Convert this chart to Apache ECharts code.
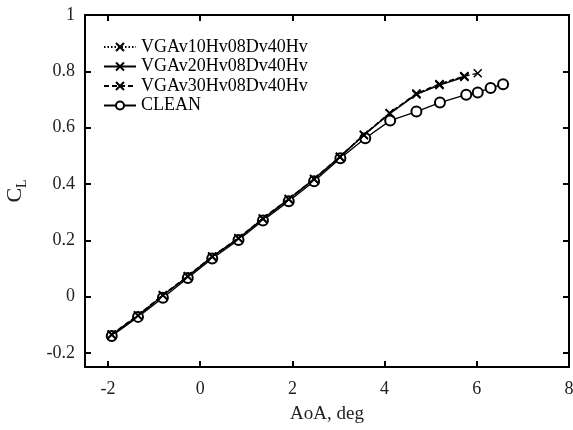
<!DOCTYPE html>
<html>
<head>
<meta charset="utf-8">
<script src="https://cdn.jsdelivr.net/npm/echarts@6/dist/echarts.min.js"></script>
<style>
  html, body { margin: 0; padding: 0; background: #fff; }
  #chart { width: 573px; height: 430px; }
</style>
</head>
<body>
<div id="chart"></div>
<script>
// Lift coefficient vs angle of attack, with and without vortex generators
const aoaClean = [-1.92, -1.35, -0.81, -0.27, 0.26, 0.83, 1.36, 1.92, 2.47, 3.04, 3.58, 4.12, 4.69, 5.2, 5.77, 6.02, 6.3, 6.57];
const clClean  = [-0.140, -0.072, -0.004, 0.066, 0.135, 0.201, 0.270, 0.339, 0.410, 0.491, 0.562, 0.625, 0.657, 0.689, 0.717, 0.725, 0.741, 0.754];

const aoaVG10 = [-1.92, -1.35, -0.81, -0.27, 0.26, 0.83, 1.36, 1.92, 2.47, 3.03, 3.55, 4.11, 4.69, 5.19, 5.73];
const clVG10  = [-0.135, -0.067, 0.005, 0.071, 0.141, 0.206, 0.277, 0.345, 0.416, 0.495, 0.573, 0.651, 0.720, 0.753, 0.782];

const aoaVG20 = [-1.92, -1.35, -0.81, -0.27, 0.26, 0.83, 1.36, 1.92, 2.47, 3.03, 3.55, 4.11, 4.69, 5.19, 5.73];
const clVG20  = [-0.136, -0.068, 0.004, 0.072, 0.142, 0.207, 0.276, 0.346, 0.417, 0.496, 0.574, 0.650, 0.718, 0.751, 0.780];

const aoaVG30 = [-1.92, -1.35, -0.81, -0.27, 0.26, 0.83, 1.36, 1.92, 2.47, 3.03, 3.55, 4.11, 4.69, 5.19, 5.73, 6.02];
const clVG30  = [-0.134, -0.066, 0.006, 0.073, 0.143, 0.208, 0.278, 0.347, 0.418, 0.497, 0.575, 0.652, 0.721, 0.755, 0.783, 0.793];

const seriesNames = ['VGAv10Hv08Dv40Hv', 'VGAv20Hv08Dv40Hv', 'VGAv30Hv08Dv40Hv', 'CLEAN'];
const xTicks = [-2, 0, 2, 4, 6, 8];
const yTicks = [-0.2, 0, 0.2, 0.4, 0.6, 0.8, 1];

const FONT = '"Liberation Serif", "Times New Roman", serif';
const CROSS = 'path://M0,0L10,10M10,0L0,10';

const pairs = (xs, ys) => xs.map((x, i) => [x, ys[i]]);

function crossSeries(name, xs, ys, type) {
  return {
    name, type: 'line', data: pairs(xs, ys),
    symbol: CROSS, symbolSize: 8, showAllSymbol: true,
    lineStyle: { color: '#000', width: 1.5, type },
    itemStyle: { color: '#000', borderColor: '#000', borderWidth: 1.5 },
    emphasis: { disabled: true }, animation: false, z: 3
  };
}

const axisCommon = {
  axisLine: { onZero: false, lineStyle: { color: '#000', width: 2 } },
  axisTick: { inside: true, length: 6, lineStyle: { color: '#000', width: 2 } },
  splitLine: { show: false }
};

const chart = echarts.init(document.getElementById('chart'), null, { renderer: 'canvas' });
chart.setOption({
  backgroundColor: '#fff',
  animation: false,
  grid: { left: 85, right: 4, top: 15, bottom: 63, containLabel: false, outerBoundsMode: 'none' },
  legend: {
    orient: 'vertical', left: 98, top: 33,
    itemWidth: 32, itemHeight: 10, itemGap: 1.5,
    data: seriesNames,
    textStyle: { fontFamily: FONT, fontSize: 18, color: '#000', lineHeight: 18 }
  },
  xAxis: [
    Object.assign({}, axisCommon, {
      type: 'value', min: -2.5, max: 8, position: 'bottom',
      axisTick: Object.assign({}, axisCommon.axisTick, { customValues: xTicks }),
      axisLabel: { customValues: xTicks, fontFamily: FONT, fontSize: 18, color: '#222', margin: 13 },
      name: 'AoA, deg', nameLocation: 'middle', nameGap: 38,
      nameTextStyle: { fontFamily: FONT, fontSize: 19, color: '#222' }
    }),
    Object.assign({}, axisCommon, {
      type: 'value', min: -2.5, max: 8, position: 'top',
      axisTick: Object.assign({}, axisCommon.axisTick, { customValues: xTicks }),
      axisLabel: { show: false }
    })
  ],
  yAxis: [
    Object.assign({}, axisCommon, {
      type: 'value', min: -0.25, max: 1, position: 'left',
      axisTick: Object.assign({}, axisCommon.axisTick, { customValues: yTicks }),
      axisLabel: {
        customValues: yTicks, fontFamily: FONT, fontSize: 18, color: '#222', margin: 10,
        formatter: v => String(Math.round(v * 10) / 10)
      },
      name: '{c|C}{s|L}', nameLocation: 'middle', nameGap: 56, nameRotate: 90,
      nameTextStyle: {
        rich: {
          c: { fontFamily: FONT, fontSize: 22, color: '#222', lineHeight: 28, verticalAlign: 'middle' },
          s: { fontFamily: FONT, fontSize: 14, color: '#222', lineHeight: 28, verticalAlign: 'bottom' }
        }
      }
    }),
    Object.assign({}, axisCommon, {
      type: 'value', min: -0.25, max: 1, position: 'right',
      axisTick: Object.assign({}, axisCommon.axisTick, { customValues: yTicks }),
      axisLabel: { show: false }
    })
  ],
  series: [
    crossSeries(seriesNames[0], aoaVG10, clVG10, [1.5, 2]),
    crossSeries(seriesNames[1], aoaVG20, clVG20, 'solid'),
    crossSeries(seriesNames[2], aoaVG30, clVG30, [5, 3]),
    {
      name: seriesNames[3], type: 'line', data: pairs(aoaClean, clClean),
      symbol: 'emptyCircle', symbolSize: 10, showAllSymbol: true,
      lineStyle: { color: '#000', width: 1.3 },
      itemStyle: { color: '#000', borderColor: '#000', borderWidth: 1.5 },
      emphasis: { disabled: true }, animation: false, z: 2
    }
  ]
});
</script>
</body>
</html>
